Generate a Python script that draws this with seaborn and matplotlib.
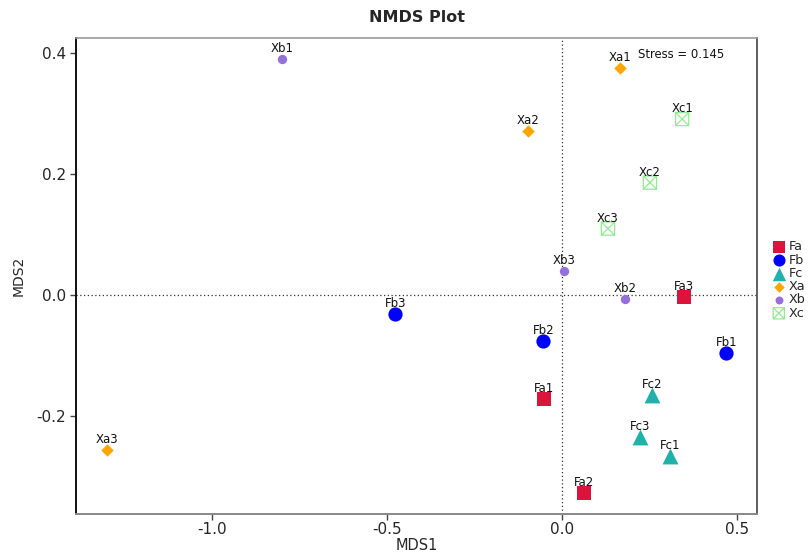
import numpy as np
import pandas as pd
import matplotlib
matplotlib.use("Agg")
import matplotlib.pyplot as plt
from matplotlib.path import Path
import seaborn as sns

# ---- data ----
samples = ["Fa1", "Fa2", "Fa3", "Fb1", "Fb2", "Fb3", "Fc1", "Fc2", "Fc3",
           "Xa1", "Xa2", "Xa3", "Xb1", "Xb2", "Xb3", "Xc1", "Xc2", "Xc3"]
groups = ["Fa", "Fa", "Fa", "Fb", "Fb", "Fb", "Fc", "Fc", "Fc",
          "Xa", "Xa", "Xa", "Xb", "Xb", "Xb", "Xc", "Xc", "Xc"]
mds1 = [-0.051, 0.063, 0.349, 0.469, -0.054, -0.477, 0.309, 0.257, 0.223,
        0.166, -0.097, -1.300, -0.800, 0.180, 0.006, 0.343, 0.251, 0.131]
mds2 = [-0.172, -0.328, -0.004, -0.097, -0.077, -0.032, -0.267, -0.166, -0.236,
        0.374, 0.270, -0.257, 0.389, -0.007, 0.039, 0.290, 0.185, 0.109]
group_order = ["Fa", "Fb", "Fc", "Xa", "Xb", "Xc"]
stress_text = "Stress = 0.145"
x_ticks = [-1.0, -0.5, 0.0, 0.5]
y_ticks = [-0.2, 0.0, 0.2, 0.4]

df = pd.DataFrame({"sample": samples, "group": groups, "MDS1": mds1, "MDS2": mds2})

# square with an X inside (R pch 7 style)
box_x = Path([(-1, -1), (1, -1), (1, 1), (-1, 1), (-1, -1),
              (-1, -1), (1, 1), (-1, 1), (1, -1)],
             [Path.MOVETO, Path.LINETO, Path.LINETO, Path.LINETO, Path.CLOSEPOLY,
              Path.MOVETO, Path.LINETO, Path.MOVETO, Path.LINETO])

styles = {
    "Fa": dict(marker="s", color="#DC143C", s=95, filled=True),
    "Fb": dict(marker="o", color="#0000FF", s=105, filled=True),
    "Fc": dict(marker="^", color="#20B2AA", s=130, filled=True),
    "Xa": dict(marker="D", color="#FFA500", s=40, filled=True),
    "Xb": dict(marker="o", color="#9370DB", s=45, filled=True),
    "Xc": dict(marker=box_x, color="#90EE90", s=90, filled=False),
}

sns.set_style("white")
plt.rcParams["font.family"] = ["DejaVu Sans"]

fig = plt.figure(figsize=(8.10, 5.56), dpi=100)
ax = fig.add_axes([76.3 / 810, 1 - 514.3 / 556, (756.7 - 76.3) / 810, (514.3 - 38.3) / 556])

for g in group_order:
    st = styles[g]
    sub = df[df["group"] == g]
    if st["filled"]:
        sns.scatterplot(data=sub, x="MDS1", y="MDS2", marker=st["marker"], color=st["color"],
                        s=st["s"], edgecolor=st["color"], linewidth=0, ax=ax, label=g, zorder=3)
    else:
        sns.scatterplot(data=sub, x="MDS1", y="MDS2", marker=st["marker"], color=st["color"],
                        facecolors="none", edgecolor=st["color"], s=st["s"], linewidth=0.9,
                        ax=ax, label=g, zorder=3)

for _, r in df.iterrows():
    ax.annotate(r["sample"], (r["MDS1"], r["MDS2"]), xytext=(0, 7.5), textcoords="offset points",
                ha="center", va="center", fontsize=8.5, color="#111111")

ax.axhline(0, color="#333333", lw=0.9, ls=(0, (1, 2)), zorder=1)
ax.axvline(0, color="#333333", lw=0.9, ls=(0, (1, 2)), zorder=1)

ax.text(0.217, 0.396, stress_text, fontsize=8.4, ha="left", va="center", color="#111111")

ax.set_xlim(-1.388, 0.556)
ax.set_ylim(-0.3633, 0.4235)
ax.set_xticks(x_ticks)
ax.set_xticklabels([f"{v:.1f}" for v in x_ticks])
ax.set_yticks(y_ticks)
ax.set_yticklabels([f"{v:.1f}" for v in y_ticks])
ax.tick_params(axis="both", direction="out", length=4.5, width=1, color="#444444",
               labelsize=11, bottom=True, left=True)
ax.tick_params(axis="x", pad=1)
ax.tick_params(axis="y", pad=3)
ax.set_xlabel("MDS1", fontsize=10.5, labelpad=1)
ax.set_ylabel("MDS2", fontsize=10, labelpad=8)
ax.set_title("NMDS Plot", fontsize=11.5, fontweight="bold", pad=12)

for side, c, w in [("left", "#111111", 1.4), ("bottom", "#888888", 1.4),
                   ("top", "#999999", 1.2), ("right", "#444444", 1.2)]:
    ax.spines[side].set_color(c)
    ax.spines[side].set_linewidth(w)
    ax.spines[side].set_visible(True)

ax.legend(loc="upper left", bbox_to_anchor=(766 / 810, 1 - 234 / 556),
          bbox_transform=fig.transFigure, frameon=False, fontsize=9.2,
          handletextpad=0.25, labelspacing=0.02, borderpad=0, handlelength=1.0,
          markerscale=0.85)

fig.savefig("out.png", dpi=100)
